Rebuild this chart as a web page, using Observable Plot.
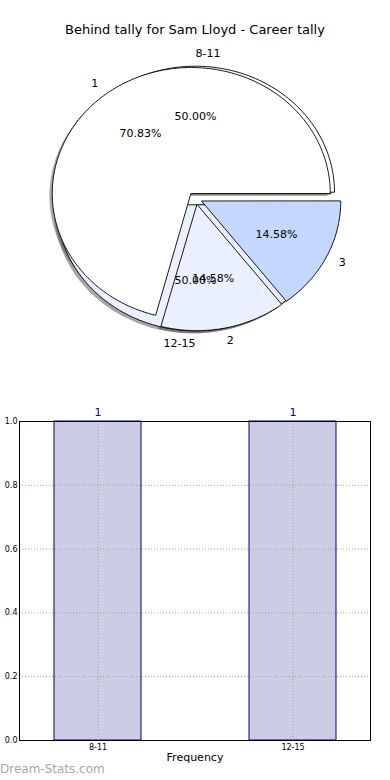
<!DOCTYPE html>
<html><head><meta charset="utf-8">
<script src="https://cdn.jsdelivr.net/npm/d3@7"></script>
<script src="https://cdn.jsdelivr.net/npm/@observablehq/plot@0.6"></script>
<style>
body{margin:0;background:#fff;font-family:"DejaVu Sans",sans-serif;}
#wrap{position:relative;width:390px;height:780px;overflow:hidden;background:#fff}
#title{position:absolute;top:22px;left:0;width:390px;text-align:center;font-size:13px;color:#000}
#pie{position:absolute;top:0;left:0}
#bar{position:absolute;top:400px;left:0}
#wm{position:absolute;left:0;top:762px;font-size:12px;color:#a8a8a8}
</style></head><body>
<div id="wrap">
 <div id="pie"></div>
 <div id="title">Behind tally for Sam Lloyd - Career tally</div>
 <div id="bar"></div>
 <div id="wm">Dream-Stats.com</div>
</div>
<script>
// ---- data ----
const tallyLabels = ["1", "2", "3"];
const tallyValues = [34, 7, 7];
const rangeLabels = ["8-11", "12-15"];
const rangeValues = [1, 1];
const freqValues = [1, 1];
const yTicks = [0, 0.2, 0.4, 0.6, 0.8, 1.0];

// ---- pie geometry (matplotlib-like wedges) ----
function wedges(pie, labels, values, explode) {
  const total = d3.sum(values);
  let cum = 0;
  const polys = [], labs = [];
  labels.forEach((lab, i) => {
    const a0 = 2 * Math.PI * cum / total; cum += values[i];
    const a1 = 2 * Math.PI * cum / total;
    const am = (a0 + a1) / 2;
    const ox = explode * Math.cos(am), oy = explode * Math.sin(am);
    const key = pie + ":" + lab;
    polys.push({key, x: ox, y: oy});
    const n = Math.max(2, Math.ceil((a1 - a0) / (2 * Math.PI) * 240));
    for (let k = 0; k <= n; k++) {
      const a = a0 + (a1 - a0) * k / n;
      polys.push({key, x: ox + Math.cos(a), y: oy + Math.sin(a)});
    }
    const c = Math.cos(am), s = Math.sin(am);
    labs.push({text: lab, x: ox + 1.1 * c, y: oy + 1.1 * s, anchor: c > 0 ? "start" : "end"});
    labs.push({text: (100 * values[i] / total).toFixed(2) + "%", x: ox + 0.6 * c, y: oy + 0.6 * s, anchor: "middle"});
  });
  return {polys, labs};
}
const pr = wedges("r", rangeLabels, rangeValues, 0.05);
const pt = wedges("t", tallyLabels, tallyValues, 0.05);
const allPolys = pr.polys.concat(pt.polys);
const allLabs = pr.labs.concat(pt.labs);

const pie = Plot.plot({
  width: 390, height: 390,
  margin: 0,
  style: {fontFamily: "DejaVu Sans", fontSize: "11px", background: "transparent", overflow: "visible"},
  x: {domain: [-1, 1], range: [56, 334], axis: null},
  y: {domain: [-1, 1], range: [324, 72], axis: null},
  color: {type: "ordinal",
          domain: ["r:8-11", "r:12-15", "t:1", "t:2", "t:3"],
          range: ["#ffffff", "#eaf0ff", "#ffffff", "#eaf0ff", "#c4d8ff"]},
  marks: [
    Plot.line(allPolys, {x: d => d.x - 0.02, y: d => d.y - 0.02, z: "key", curve: "linear-closed",
      fill: "#4d4d4d", fillOpacity: 0.5, stroke: "none"}),
    Plot.line(pr.polys, {x: "x", y: "y", z: "key", curve: "linear-closed", fill: "key", stroke: "#000", strokeWidth: 0.9}),
    Plot.line(pt.polys, {x: "x", y: "y", z: "key", curve: "linear-closed", fill: "key", stroke: "#000", strokeWidth: 0.9}),
    Plot.text(allLabs.filter(d => d.anchor === "start"), {x: "x", y: "y", text: "text", textAnchor: "start", fill: "#000"}),
    Plot.text(allLabs.filter(d => d.anchor === "end"), {x: "x", y: "y", text: "text", textAnchor: "end", fill: "#000"}),
    Plot.text(allLabs.filter(d => d.anchor === "middle"), {x: "x", y: "y", text: "text", textAnchor: "middle", fill: "#000"})
  ]
});
document.getElementById("pie").appendChild(pie);

// ---- bar chart ----
const barData = rangeLabels.map((k, i) => ({k, v: freqValues[i]}));
const bar = Plot.plot({
  width: 390, height: 380,
  marginTop: 21, marginBottom: 40, marginLeft: 19, marginRight: 20,
  style: {fontFamily: "DejaVu Sans", fontSize: "8px", background: "transparent", overflow: "visible"},
  x: {domain: rangeLabels, paddingInner: 0.554, paddingOuter: 0.174, label: null},
  y: {domain: [0, 1], label: null},
  marks: [
    Plot.barY(barData, {x: "k", y: "v", fill: "#ccccE5", stroke: "#000080", strokeWidth: 1}),
    Plot.gridY(yTicks, {stroke: "#a0a0a0", strokeOpacity: 1, strokeDasharray: "1,2"}),
    Plot.gridX(rangeLabels, {stroke: "#a0a0a0", strokeOpacity: 1, strokeDasharray: "1,2"}),
    Plot.axisY(yTicks, {tickFormat: d => d.toFixed(1), tickSize: 0, tickPadding: 2, label: null, fill: "#000"}),
    Plot.axisX({tickSize: 0, tickPadding: 4, label: null, fill: "#000"}),
    Plot.text(barData, {x: "k", y: "v", text: d => String(d.v), dy: -9, fill: "#000080", fontSize: 11}),
    Plot.text(["Frequency"], {frameAnchor: "bottom", dy: 20, text: d => d, fontSize: 11, fill: "#000"}),
    Plot.frame({stroke: "#000", strokeWidth: 1})
  ]
});
document.getElementById("bar").appendChild(bar);
</script>
</body></html>
